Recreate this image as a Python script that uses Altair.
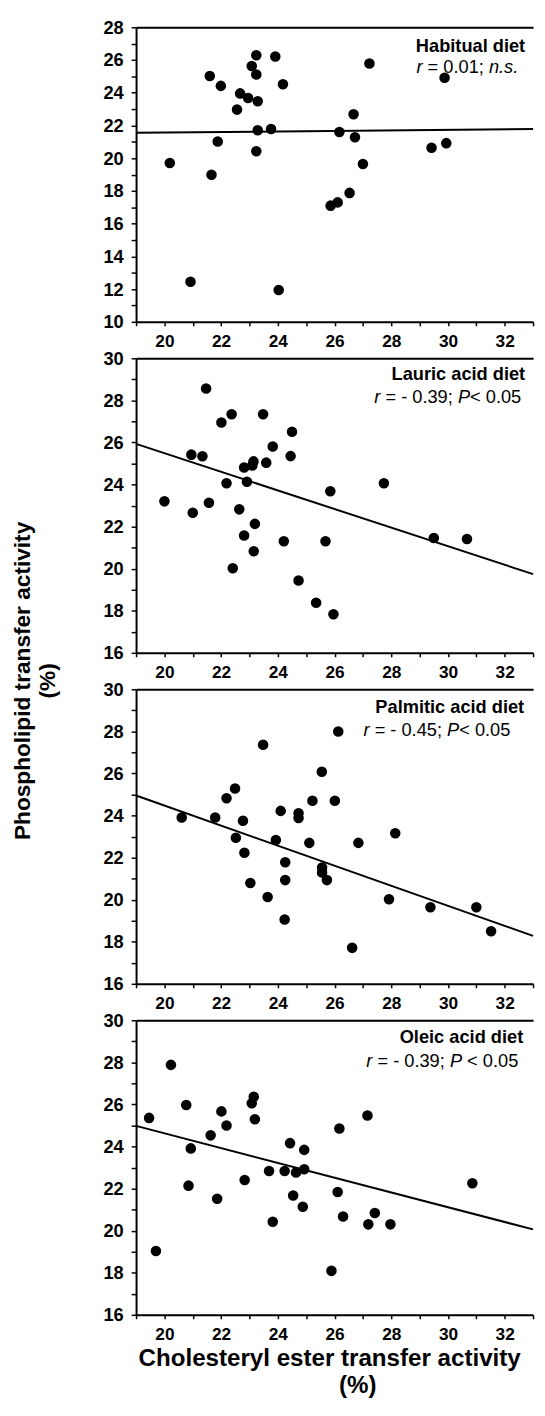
import altair as alt
import pandas as pd

FONT = "Liberation Sans"
W, H = 403, 299

x_domain = [19, 33]
x_tick_values = list(range(19, 34))

habitual_x = [20.19, 20.92, 21.60, 21.66, 21.88, 21.99, 22.56, 22.67, 22.95, 23.08,
              23.24, 23.24, 23.29, 23.29, 23.24, 23.76, 23.91, 24.18, 24.03, 25.86,
              26.11, 26.17, 26.53, 26.67, 26.72, 27.00, 27.23, 29.42, 29.88, 29.94]
habitual_y = [19.71, 12.45, 25.02, 18.99, 21.02, 24.42, 22.97, 23.96, 23.68, 25.63,
              26.29, 25.12, 23.48, 21.71, 20.42, 21.79, 26.21, 24.52, 11.95, 17.10,
              17.30, 21.60, 17.88, 22.69, 21.28, 19.65, 25.79, 20.64, 24.92, 20.92]

lauric_x = [20.00, 20.95, 21.00, 21.34, 21.47, 21.57, 22.01, 22.19, 22.37, 22.41,
            22.64, 22.81, 22.81, 22.91, 23.14, 23.10, 23.19, 23.15, 23.48, 23.59,
            23.82, 24.21, 24.45, 24.50, 24.73, 25.35, 25.68, 25.85, 25.96, 27.74,
            29.50, 30.67]
lauric_y = [23.20, 25.42, 22.66, 25.34, 28.56, 23.13, 26.95, 24.06, 27.34, 20.02,
            22.82, 24.81, 21.58, 24.13, 25.10, 24.90, 22.13, 20.83, 27.34, 25.04,
            25.81, 21.30, 25.35, 26.51, 19.44, 18.38, 21.30, 23.68, 17.83, 24.06,
            21.46, 21.41]

palmitic_x = [20.61, 21.79, 22.19, 22.49, 22.77, 22.52, 22.82, 23.03, 23.48, 23.64,
              23.93, 24.10, 24.26, 24.26, 24.24, 24.73, 24.73, 25.11, 25.22, 25.55,
              25.56, 25.56, 25.73, 26.01, 26.13, 26.62, 26.84, 27.92, 28.14, 29.38,
              31.00, 31.52]
palmitic_y = [23.91, 23.91, 24.82, 25.28, 23.75, 22.94, 22.23, 20.79, 27.36, 20.13,
              22.84, 24.22, 21.78, 20.93, 19.06, 24.11, 23.88, 22.70, 24.70, 26.08,
              21.53, 21.29, 20.93, 24.70, 27.99, 17.71, 22.70, 20.02, 23.16, 19.64,
              19.64, 18.50]

oleic_x = [19.46, 19.70, 20.23, 20.77, 20.85, 20.93, 21.63, 21.86, 22.01, 22.19,
           22.83, 23.08, 23.15, 23.19, 23.69, 23.82, 24.24, 24.43, 24.54, 24.64,
           24.88, 24.93, 24.93, 25.89, 26.11, 26.17, 26.30, 27.16, 27.19, 27.42,
           27.97, 30.86]
oleic_y = [25.36, 19.03, 27.88, 25.97, 22.14, 23.91, 24.53, 21.52, 25.67, 25.00,
           22.41, 26.06, 26.36, 25.30, 22.84, 20.42, 22.84, 24.16, 21.67, 22.77,
           21.14, 23.84, 22.92, 18.09, 21.84, 24.86, 20.67, 25.47, 20.30, 20.84,
           20.30, 22.25]

# regression lines (end points)
fit_x = [19, 33]
habitual_fit = [21.55, 21.78]
lauric_fit = [25.93, 19.74]
palmitic_fit = [24.95, 18.28]
oleic_fit = [24.98, 20.06]

panel_names = ["Habitual diet", "Lauric acid diet", "Palmitic acid diet", "Oleic acid diet"]
panel_stats = [
    [("r", "italic"), (" = 0.01; ", "normal"), ("n.s.", "italic")],
    [("r", "italic"), (" = - 0.39; ", "normal"), ("P", "italic"), ("< 0.05", "normal")],
    [("r", "italic"), (" = - 0.45; ", "normal"), ("P", "italic"), ("< 0.05", "normal")],
    [("r", "italic"), (" = - 0.39; ", "normal"), ("P", "italic"), (" < 0.05", "normal")],
]
y_domains = [[10, 28], [16, 30], [16, 30], [16, 30]]

x_title = "Cholesteryl ester transfer activity"
x_title_unit = "(%)"
y_title = ["Phospholipid transfer activity", "(%)"]

# ---- layout ----
ANNOT = 18.5
name_pos = [(395, 25.0), (395, 22.0), (394, 23.6), (393, 23.0)]
stat_pos = [(388, 46.0), (391, 45.0), (380, 47.6), (388, 47.7)]

AX = dict(domainColor="black", domainWidth=2, tickColor="black", tickWidth=1.5,
          labelColor="black", labelFont=FONT, labelFontWeight="bold",
          titleColor="black", titleFont=FONT, titleFontWeight="bold", grid=False)

ARIAL_W = {" ": 278, "=": 584, ".": 278, ";": 278, "-": 333, "<": 584,
           "r": 333, "n": 556, "s": 500, "P": 667}


def tw(s, size):
    return sum(ARIAL_W.get(c, 556) for c in s) * size / 1000.0


def stat_layers(segments, right, base):
    total = sum(tw(t, ANNOT) for t, _ in segments)
    x0 = right - total
    out = []
    for t, style in segments:
        lead = len(t) - len(t.lstrip(" "))
        xpos = x0 + tw(" " * lead, ANNOT)
        out.append(
            alt.Chart(pd.DataFrame({"label": [t.strip(" ")]}))
            .mark_text(align="left", baseline="alphabetic", font=FONT,
                       fontSize=ANNOT, fontStyle=style, color="black")
            .encode(x=alt.value(xpos), y=alt.value(base), text="label:N")
        )
        x0 += tw(t, ANNOT)
    return out


even_expr = "datum.value % 2 == 0 ? datum.label : ''"


def make_panel(i, xs, ys, fit):
    ydom = y_domains[i]
    xscale = alt.Scale(domain=x_domain, nice=False, zero=False)
    yscale = alt.Scale(domain=ydom, nice=False, zero=False)
    y_ticks = list(range(ydom[0], ydom[1] + 1))
    yargs = dict(values=y_ticks, labelExpr=even_expr, tickSize=5, labelPadding=8,
                 labelFontSize=18.5, labelFlush=False, labelOverlap=False, **AX)
    if i == 2:
        yaxis = alt.Axis(title=y_title, titleAngle=270, titleX=-126, titleY=-9,
                         titleAlign="center", titleBaseline="top", titleFontSize=23,
                         titleLineHeight=25, **yargs)
    else:
        yaxis = alt.Axis(title=None, **yargs)
    xargs = dict(values=x_tick_values, labelExpr=even_expr, tickSize=4, labelPadding=7,
                 labelFontSize=17.5, labelFlush=False, labelOverlap=False, **AX)
    if i == 3:
        xaxis = alt.Axis(title=x_title, titleX=196, titleY=51, titleAlign="center",
                         titleBaseline="alphabetic", titleFontSize=24.5, **xargs)
    else:
        xaxis = alt.Axis(title=None, **xargs)
    top_axis = alt.Axis(orient="top", labels=False, ticks=False, title=None, **AX)

    pts = alt.Chart(pd.DataFrame({"x": xs, "y": ys})).mark_circle(
        size=115, color="black", opacity=1
    ).encode(
        x=alt.X("x:Q", scale=xscale, axis=xaxis),
        y=alt.Y("y:Q", scale=yscale, axis=yaxis),
    )
    line = alt.Chart(pd.DataFrame({"x": fit_x, "y": fit})).mark_line(
        color="black", strokeWidth=2
    ).encode(
        x=alt.X("x:Q", scale=xscale, axis=top_axis),
        y=alt.Y("y:Q", scale=yscale, axis=yaxis),
    )
    nx, ny = name_pos[i]
    name = alt.Chart(pd.DataFrame({"label": [panel_names[i]]})).mark_text(
        align="right", baseline="alphabetic", font=FONT, fontSize=ANNOT,
        fontWeight="bold", color="black"
    ).encode(x=alt.value(nx), y=alt.value(ny), text="label:N")
    sx, sy = stat_pos[i]
    layers = [pts, line, name] + stat_layers(panel_stats[i], sx, sy)
    if i == 3:
        layers.append(
            alt.Chart(pd.DataFrame({"label": [x_title_unit]})).mark_text(
                align="center", baseline="alphabetic", font=FONT, fontSize=24.5,
                fontWeight="bold", color="black"
            ).encode(x=alt.value(225), y=alt.value(378), text="label:N")
        )
    return alt.layer(*layers).resolve_axis(x="independent").properties(width=W, height=H)


panels = [
    make_panel(0, habitual_x, habitual_y, habitual_fit),
    make_panel(1, lauric_x, lauric_y, lauric_fit),
    make_panel(2, palmitic_x, palmitic_y, palmitic_fit),
    make_panel(3, oleic_x, oleic_y, oleic_fit),
]

chart = alt.vconcat(*panels, spacing=37, bounds="flush").properties(
    padding={"left": 3, "top": 0, "right": 0, "bottom": 0}
).configure_view(strokeWidth=0)

chart.save("out.html", embed_options={"renderer": "svg", "actions": False})
